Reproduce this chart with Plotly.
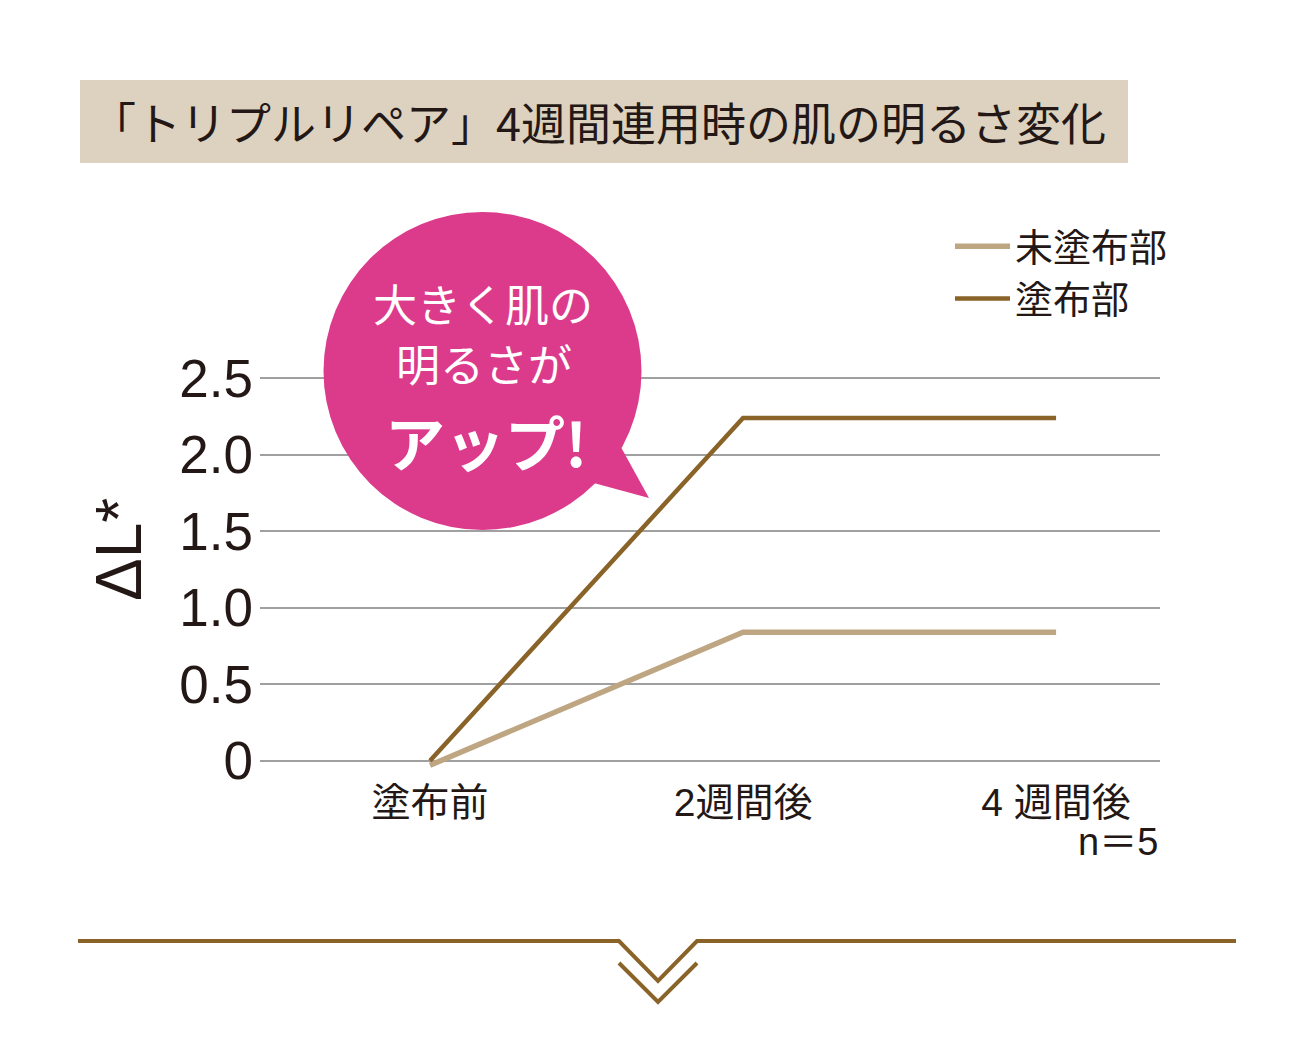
import plotly.graph_objects as go

# ---- data ----
categories = ["塗布前", "2週間後", "4 週間後"]
x_pos = [0, 1, 2]
untreated = [-0.03, 0.84, 0.84]   # 未塗布部
treated = [0.0, 2.24, 2.24]       # 塗布部
y_ticks = [0, 0.5, 1.0, 1.5, 2.0, 2.5]
y_tick_labels = ["0", "0.5", "1.0", "1.5", "2.0", "2.5"]
series_names = ["未塗布部", "塗布部"]
title_text = "「トリプルリペア」4週間連用時の肌の明るさ変化"
bubble_lines = ["大きく肌の", "明るさが", "アップ!"]
y_title = "ΔL*"
note_text = "n＝5"

# ---- layout geometry (reference pixel coords, page body has 8px margin) ----
OFF = 8
W, H = 1314 - 2 * OFF, 1063 - 2 * OFF
PLOT_L, PLOT_R, PLOT_T, PLOT_B = 260, 1160, 363, 776   # page pixels
L = PLOT_L - OFF
T = PLOT_T - OFF
R = W - (PLOT_R - OFF)
B = H - (PLOT_B - OFF)
PW, PH = PLOT_R - PLOT_L, PLOT_B - PLOT_T


def X(p):
    return (p - PLOT_L) / PW


def Y(p):
    return (PLOT_B - p) / PH


JP = "Noto Sans CJK JP"
MIX = "Liberation Sans, Noto Sans CJK JP"
INK = "#231815"
BROWN = "#8A6329"
BEIGE = "#BFA683"
PINK = "#DC3B8C"

fig = go.Figure()
fig.add_trace(go.Scatter(x=x_pos, y=untreated, mode="lines", name=series_names[0],
                         line=dict(color=BEIGE, width=5.5)))
fig.add_trace(go.Scatter(x=x_pos, y=treated, mode="lines", name=series_names[1],
                         line=dict(color=BROWN, width=4.5)))

shapes = []
# title banner
shapes.append(dict(type="rect", xref="paper", yref="paper", x0=X(80), x1=X(1128),
                   y0=Y(163), y1=Y(80), fillcolor="#DDD1BF", line=dict(width=0), layer="below"))
# speech bubble
shapes.append(dict(type="circle", xref="paper", yref="paper", x0=X(323.5), x1=X(641.5),
                   y0=Y(530), y1=Y(212), fillcolor=PINK, line=dict(width=0)))
tail = "M {},{} L {},{} L {},{} Z".format(X(617), Y(440), X(649), Y(498), X(590), Y(482))
shapes.append(dict(type="path", xref="paper", yref="paper", path=tail,
                   fillcolor=PINK, line=dict(width=0)))
# bottom divider with chevrons
top_path = "M {},{} L {},{} L {},{} L {},{} L {},{}".format(
    X(78), Y(941), X(619), Y(941), X(658), Y(981), X(697), Y(941), X(1236), Y(941))
shapes.append(dict(type="path", xref="paper", yref="paper", path=top_path,
                   line=dict(color=BROWN, width=4)))
chev = "M {},{} L {},{} L {},{}".format(X(619), Y(963), X(658), Y(1002), X(697), Y(963))
shapes.append(dict(type="path", xref="paper", yref="paper", path=chev,
                   line=dict(color=BROWN, width=4)))

annotations = [
    dict(text=title_text, xref="paper", yref="paper", x=X(598), y=Y(122),
         showarrow=False, font=dict(family=JP, size=45, color=INK),
         xanchor="center", yanchor="middle"),
    dict(text=bubble_lines[0], xref="paper", yref="paper", x=X(483), y=Y(303),
         showarrow=False, font=dict(family=JP, size=44, color="white"),
         xanchor="center", yanchor="middle"),
    dict(text=bubble_lines[1], xref="paper", yref="paper", x=X(484), y=Y(363),
         showarrow=False, font=dict(family=JP, size=44, color="white"),
         xanchor="center", yanchor="middle"),
    dict(text="<b>" + bubble_lines[2] + "</b>", xref="paper", yref="paper", x=X(486), y=Y(440),
         showarrow=False, font=dict(family=JP, size=60, color="white"),
         xanchor="center", yanchor="middle"),
    dict(text=note_text, xref="paper", yref="paper", x=X(1160), y=Y(842),
         showarrow=False, font=dict(family=MIX, size=38, color=INK),
         xanchor="right", yanchor="middle"),
    dict(text=y_title, xref="paper", yref="paper", x=X(119), y=Y(550), textangle=-90,
         showarrow=False, font=dict(family="Liberation Sans", size=64, color=INK),
         xanchor="center", yanchor="middle"),
]

fig.update_layout(
    width=W, height=H,
    margin=dict(l=L, r=R, t=T, b=B),
    paper_bgcolor="white", plot_bgcolor="white",
    shapes=shapes, annotations=annotations,
    showlegend=True,
    legend=dict(x=X(950), y=Y(215), xanchor="left", yanchor="top",
                font=dict(family=JP, size=38, color=INK),
                bgcolor="rgba(0,0,0,0)", itemwidth=55, tracegroupgap=0),
    xaxis=dict(range=[-0.543, 2.332], tickvals=x_pos, ticktext=categories,
               showgrid=False, zeroline=False, showline=False, ticks="",
               tickfont=dict(family=MIX, size=39, color=INK), fixedrange=True),
    yaxis=dict(range=[-0.1, 2.6], tickvals=y_ticks, ticktext=y_tick_labels,
               showgrid=True, gridcolor="#A0A0A0", gridwidth=1.5,
               zeroline=False, showline=False, ticks="",
               tickfont=dict(family="Liberation Sans", size=53, color=INK),
               ticklabelstandoff=6, fixedrange=True),
)

fig.write_html("out.html")
